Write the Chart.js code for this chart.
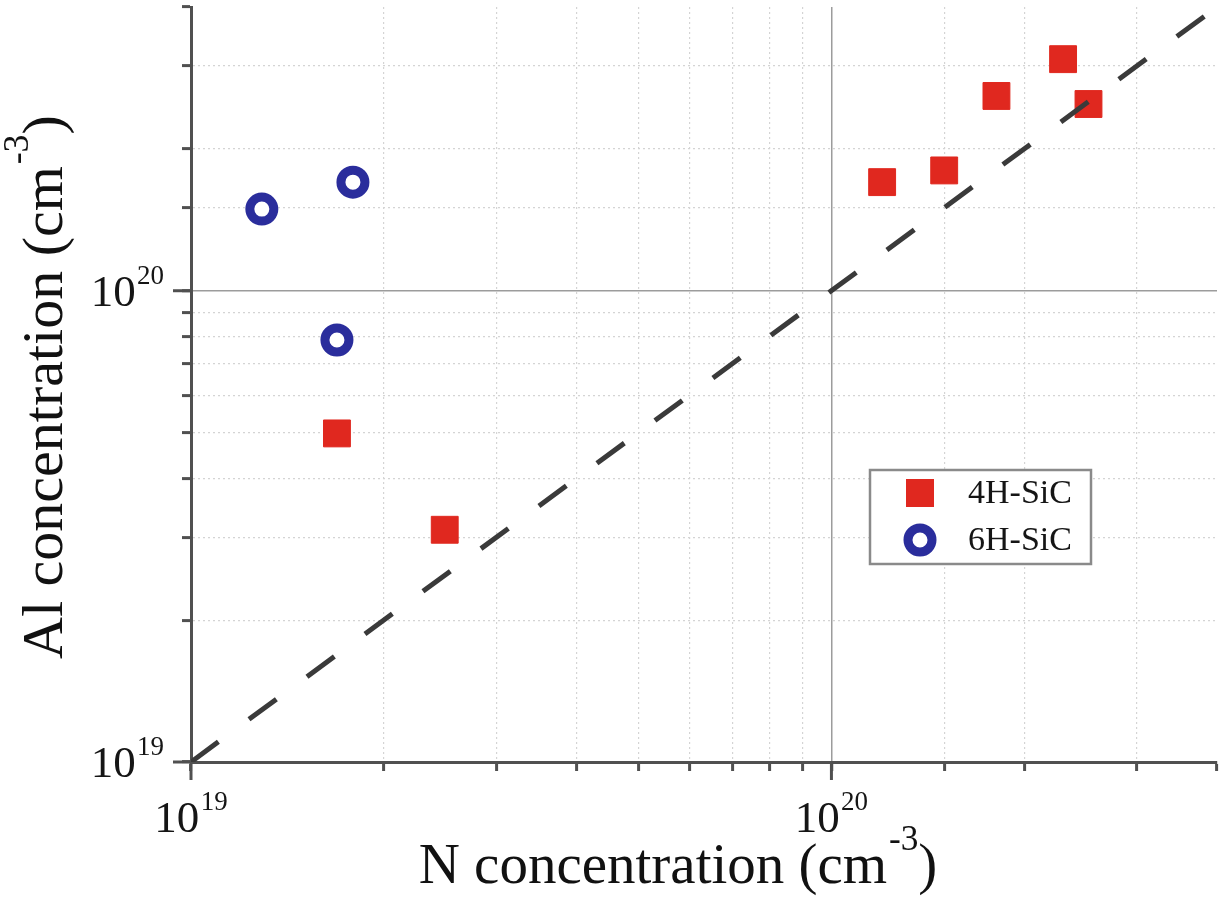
<!DOCTYPE html>
<html>
<head>
<meta charset="utf-8">
<script src="https://cdn.jsdelivr.net/npm/chart.js@4.4.1/dist/chart.umd.min.js"></script>
<style>
html,body{margin:0;padding:0;background:#ffffff;}
#wrap{width:1227px;height:902px;}
</style>
</head>
<body>
<div id="wrap"><canvas id="c" width="1227" height="902"></canvas></div>
<script>
// ---------------- data ----------------
const seriesNames = ['4H-SiC', '6H-SiC'];
const n4H  = [1.69e19, 2.49e19, 1.20e20, 1.50e20, 1.81e20, 2.30e20, 2.52e20];
const al4H = [4.98e19, 3.11e19, 1.70e20, 1.80e20, 2.59e20, 3.10e20, 2.49e20];
const n6H  = [1.29e19, 1.79e19, 1.69e19];
const al6H = [1.49e20, 1.70e20, 7.86e19];
const refLineN  = [1e19, 4e20];   // dashed y = x line
const refLineAl = [1e19, 4e20];
const axisMin = 1e19, axisMax = 4e20;
const labeledExponents = [19, 20];
const tickBase = '10';
const xTitleParts = ['N concentration (cm', '-3', ')'];
const yTitleParts = ['Al concentration (cm', '-3', ')'];

// ---------------- helpers ----------------
const FAM = "'Liberation Serif', 'Times New Roman', serif";
const isDec = (v, d) => v > 0 && Math.abs(Math.log10(v) - d) < 1e-6;
const isMax = v => Math.abs(v - axisMax) / axisMax < 1e-6;
function gridColor(c) {
  const v = c.tick && c.tick.value;
  if (!v || isDec(v, 19) || isMax(v)) return 'rgba(0,0,0,0)';
  if (isDec(v, 20)) return '#9c9c9c';
  return '#d4d4d4';
}
function gridWidth(c) {
  const v = c.tick && c.tick.value;
  return (v && isDec(v, 20)) ? 1.5 : 1.2;
}
function gridDash(c) {
  const v = c.tick && c.tick.value;
  if (!v || isDec(v, 20)) return [];
  return [2, 3];
}
const toPts = (xs, ys) => xs.map((x, i) => ({x: x, y: ys[i]}));

function makeScale(isX) {
  return {
    type: 'logarithmic',
    min: axisMin,
    max: axisMax,
    grid: {
      color: gridColor,
      lineWidth: gridWidth,
      drawTicks: true,
      tickLength: 9,
      tickColor: '#505050',
      tickWidth: 3
    },
    border: { display: true, color: '#505050', width: 3, dash: gridDash },
    ticks: { display: false, autoSkip: false },
    title: { display: false },
    afterFit: (s) => {
      if (isX) { s.height = 140; s.paddingLeft = 0; s.paddingRight = 0; }
      else { s.width = 191; s.paddingTop = 0; s.paddingBottom = 0; }
    }
  };
}

// draws base + superscript + tail, anchored by align ('left'|'center'|'right') at (0,0) baseline
function drawSupText(ctx, parts, size, supScale, supRise, align) {
  ctx.textBaseline = 'alphabetic';
  ctx.textAlign = 'left';
  ctx.font = size + 'px ' + FAM;
  const w1 = ctx.measureText(parts[0]).width;
  const w3 = parts[2] ? ctx.measureText(parts[2]).width : 0;
  ctx.font = (size * supScale) + 'px ' + FAM;
  const w2 = ctx.measureText(parts[1]).width;
  const gap = size * 0.03;
  const total = w1 + gap + w2 + w3;
  let x = align === 'right' ? -total : (align === 'left' ? 0 : -total / 2);
  ctx.font = size + 'px ' + FAM;
  ctx.fillText(parts[0], x, 0); x += w1 + gap;
  ctx.font = (size * supScale) + 'px ' + FAM;
  ctx.fillText(parts[1], x, -supRise); x += w2;
  if (parts[2]) {
    ctx.font = size + 'px ' + FAM;
    ctx.fillText(parts[2], x, 0);
  }
}

const decorPlugin = {
  id: 'decor',
  afterDraw(chart) {
    const ctx = chart.ctx;
    const a = chart.chartArea;
    const xs = chart.scales.x, ys = chart.scales.y;
    ctx.save();
    // longer major ticks
    ctx.strokeStyle = '#505050';
    ctx.lineWidth = 3;
    for (const d of labeledExponents) {
      const px = xs.getPixelForValue(Math.pow(10, d));
      ctx.beginPath(); ctx.moveTo(px, a.bottom); ctx.lineTo(px, a.bottom + 18); ctx.stroke();
      const py = ys.getPixelForValue(Math.pow(10, d));
      ctx.beginPath(); ctx.moveTo(a.left, py); ctx.lineTo(a.left - 18, py); ctx.stroke();
    }
    // tick labels 10^n
    ctx.fillStyle = '#151515';
    for (const d of labeledExponents) {
      const v = Math.pow(10, d);
      const px = xs.getPixelForValue(v);
      ctx.save();
      ctx.translate(px, a.bottom + 70);
      drawSupText(ctx, [tickBase, String(d), ''], 45, 0.6, 22, 'center');
      ctx.restore();
      const py = ys.getPixelForValue(v);
      ctx.save();
      ctx.translate(a.left - 27, py + 15);
      drawSupText(ctx, [tickBase, String(d), ''], 45, 0.6, 22, 'right');
      ctx.restore();
    }
    // axis titles
    ctx.fillStyle = '#111111';
    ctx.save();
    ctx.translate(a.left + 487, 883);
    drawSupText(ctx, xTitleParts, 57, 0.62, 33, 'center');
    ctx.restore();
    ctx.save();
    ctx.translate(62, 387);
    ctx.rotate(-Math.PI / 2);
    drawSupText(ctx, yTitleParts, 58, 0.62, 34, 'center');
    ctx.restore();

    // legend
    const lx = a.left + 679, ly = 470, lw = 221, lh = 94;
    ctx.fillStyle = '#ffffff';
    ctx.fillRect(lx, ly, lw, lh);
    ctx.strokeStyle = '#8a8a8a';
    ctx.lineWidth = 2.5;
    ctx.strokeRect(lx, ly, lw, lh);
    const ds = chart.data.datasets;
    const rows = [ds[1], ds[2]];
    rows.forEach((d, i) => {
      const cy = ly + 23 + i * 47;
      const cx = lx + 50;
      if (d.pointStyle === 'rect') {
        ctx.fillStyle = d.backgroundColor;
        ctx.fillRect(cx - 14, cy - 14, 28, 28);
      } else {
        ctx.beginPath();
        ctx.arc(cx, cy, d.pointRadius, 0, Math.PI * 2);
        ctx.fillStyle = d.backgroundColor;
        ctx.fill();
        ctx.lineWidth = d.borderWidth;
        ctx.strokeStyle = d.borderColor;
        ctx.stroke();
      }
      ctx.fillStyle = '#151515';
      ctx.font = '34px ' + FAM;
      ctx.textAlign = 'left';
      ctx.textBaseline = 'middle';
      ctx.fillText(d.label, lx + 98, cy + 1);
    });
    ctx.restore();
  }
};

new Chart(document.getElementById('c'), {
  type: 'scatter',
  data: {
    datasets: [
      {
        label: 'y = x',
        data: toPts(refLineN, refLineAl),
        showLine: true,
        borderColor: '#3a3a3a',
        borderWidth: 5,
        borderDash: [34, 38],
        pointRadius: 0,
        fill: false
      },
      {
        label: seriesNames[0],
        data: toPts(n4H, al4H),
        pointStyle: 'rect',
        pointRadius: 19,
        backgroundColor: '#e0281f',
        borderColor: '#e0281f',
        borderWidth: 1
      },
      {
        label: seriesNames[1],
        data: toPts(n6H, al6H),
        pointStyle: 'circle',
        pointRadius: 12,
        backgroundColor: '#ffffff',
        borderColor: '#2a2d9c',
        borderWidth: 9
      }
    ]
  },
  options: {
    responsive: false,
    animation: false,
    devicePixelRatio: 1,
    events: [],
    layout: { autoPadding: false, padding: { left: 0, top: 7, right: 10, bottom: 0 } },
    plugins: { legend: { display: false }, tooltip: { enabled: false } },
    scales: { x: makeScale(true), y: makeScale(false) }
  },
  plugins: [decorPlugin]
});
</script>
</body>
</html>
